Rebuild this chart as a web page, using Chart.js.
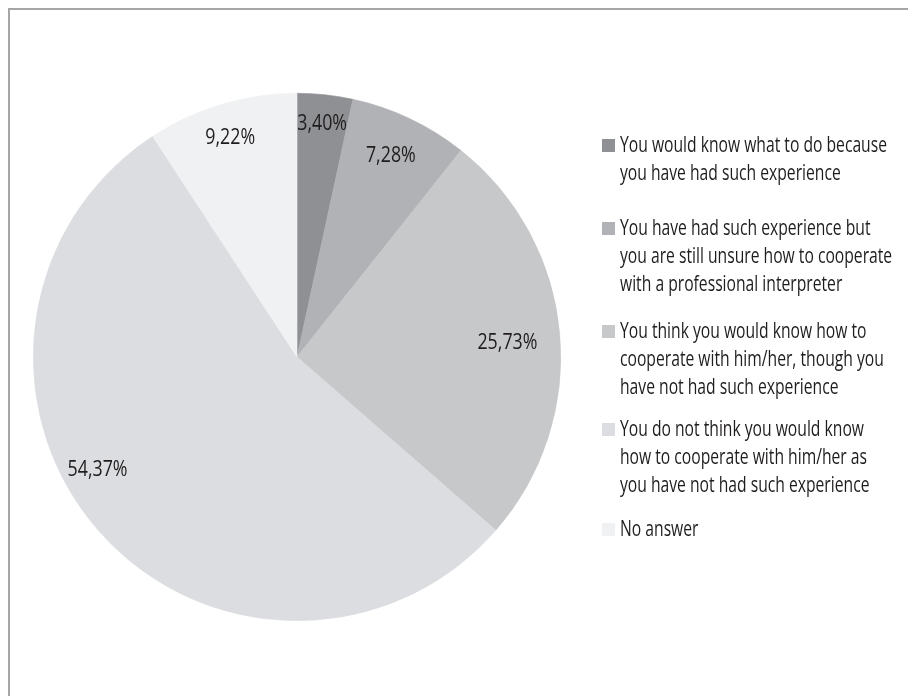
<!DOCTYPE html>
<html>
<head>
<meta charset="utf-8">
<script src="https://cdn.jsdelivr.net/npm/chart.js@4"></script>
<style>
  html, body { margin: 0; padding: 0; background: #fff; width: 908px; height: 696px; overflow: hidden; }
  #frame { position: absolute; left: 8px; top: 8px; width: 920px; height: 720px; border-top: 2px solid #a6a6a6; border-left: 2px solid #a6a6a6; box-sizing: border-box; }
  #c { position: absolute; left: 0; top: 0; }
</style>
</head>
<body>
<div id="frame"></div>
<canvas id="c" width="908" height="696"></canvas>
<script>
const categories = [
  ['You would know what to do because', 'you have had such experience'],
  ['You have had such experience but', 'you are still unsure how to cooperate', 'with a professional interpreter'],
  ['You think you would know how to', 'cooperate with him/her, though you', 'have not had such experience'],
  ['You do not think you would know', 'how to cooperate with him/her as', 'you have not had such experience'],
  ['No answer']
];
const values = [3.40, 7.28, 25.73, 54.37, 9.22];
const valueLabels = ['3,40%', '7,28%', '25,73%', '54,37%', '9,22%'];
const colors = ['#8f9093', '#b1b2b5', '#c7c8ca', '#dcdde0', '#f0f1f3'];

const FONT_SIZE = 22;
const FONT = FONT_SIZE + 'px "Open Sans", "Noto Sans", sans-serif';
const TEXT_COLOR = '#1f1c1d';

// label placement around each slice (angle offset in degrees, radius fraction)
const labelPlacement = [[0, 0.894], [-0.5, 0.847], [1.2, 0.80], [11.9, 0.866], [-0.3, 0.871]];
// legend layout: line height and gap after each item
const legendLineH = 28;
const legendGaps = [27, 19, 14, 16];

function textScale(ctx, sample, target) {
  ctx.font = FONT;
  return target / ctx.measureText(sample).width;
}

function drawScaledText(ctx, text, x, y, sx, align) {
  ctx.save();
  ctx.translate(x, y);
  ctx.scale(sx, 1);
  ctx.textAlign = align;
  ctx.fillText(text, 0, 0);
  ctx.restore();
}

const labelsPlugin = {
  id: 'sliceLabels',
  afterDatasetsDraw(chart) {
    const ctx = chart.ctx;
    const meta = chart.getDatasetMeta(0);
    const sx = textScale(ctx, '54,37%', 60);
    ctx.save();
    ctx.font = FONT;
    ctx.fillStyle = TEXT_COLOR;
    ctx.textBaseline = 'middle';
    meta.data.forEach((arc, i) => {
      const p = arc.getProps(['x', 'y', 'startAngle', 'endAngle', 'outerRadius'], true);
      const mid = (p.startAngle + p.endAngle) / 2 + labelPlacement[i][0] * Math.PI / 180;
      const r = p.outerRadius * labelPlacement[i][1];
      const x = p.x + Math.cos(mid) * r;
      const y = p.y + Math.sin(mid) * r;
      drawScaledText(ctx, valueLabels[i], x, y + 1, sx, 'center');
    });
    ctx.restore();
  }
};

const legendPlugin = {
  id: 'sideLegend',
  afterDraw(chart) {
    const ctx = chart.ctx;
    const sx = textScale(ctx, 'You would know what to do because', 267);
    const box = 13;
    const boxX = 602, textX = 620;
    let baseline = 152;
    ctx.save();
    ctx.font = FONT;
    ctx.textBaseline = 'alphabetic';
    categories.forEach((lines, i) => {
      ctx.fillStyle = colors[i];
      ctx.fillRect(boxX, baseline - 13, box, box);
      ctx.fillStyle = TEXT_COLOR;
      lines.forEach((ln, j) => {
        drawScaledText(ctx, ln, textX, baseline + j * legendLineH, sx, 'left');
      });
      baseline += lines.length * legendLineH + (legendGaps[i] || 0);
    });
    ctx.restore();
  }
};

new Chart(document.getElementById('c'), {
  type: 'pie',
  data: {
    labels: categories,
    datasets: [{
      data: values,
      backgroundColor: colors,
      borderColor: colors,
      borderWidth: 0.6,
      hoverOffset: 0
    }]
  },
  options: {
    responsive: false,
    devicePixelRatio: 1,
    animation: false,
    layout: { padding: { left: 33, top: 93, right: 347, bottom: 75 } },
    plugins: {
      legend: { display: false },
      tooltip: { enabled: false }
    }
  },
  plugins: [labelsPlugin, legendPlugin]
});
</script>
</body>
</html>
